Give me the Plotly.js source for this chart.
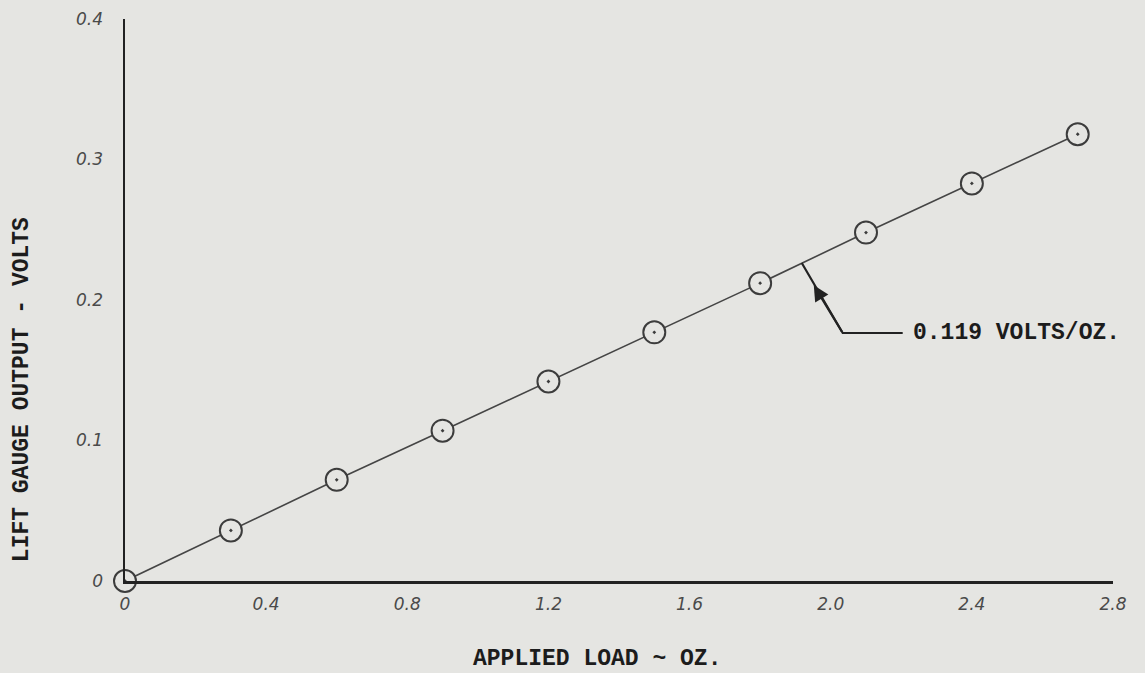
<!DOCTYPE html>
<html>
<head>
<meta charset="utf-8">
<script src="https://cdn.plot.ly/plotly-3.0.1.min.js"></script>
<style>
  html, body { margin: 0; padding: 0; background: #e5e5e2; }
  #chart { width: 1145px; height: 673px; }
</style>
</head>
<body>
<div id="chart"></div>
<script>
// ---- data ----
const loadOz = [0, 0.3, 0.6, 0.9, 1.2, 1.5, 1.8, 2.1, 2.4, 2.7];
const outputVolts = [0, 0.036, 0.072, 0.107, 0.142, 0.177, 0.212, 0.248, 0.283, 0.318];

const xTickVals = [0, 0.4, 0.8, 1.2, 1.6, 2.0, 2.4, 2.8];
const xTickText = ['0', '0.4', '0.8', '1.2', '1.6', '2.0', '2.4', '2.8'];
const yTickVals = [0, 0.1, 0.2, 0.3, 0.4];
const yTickText = ['0', '0.1', '0.2', '0.3', '0.4'];

const xTitle = 'APPLIED LOAD ~ OZ.';
const yTitle = 'LIFT GAUGE OUTPUT - VOLTS';
const slopeLabel = '0.119 VOLTS/OZ.';

// leader line for the slope label (annotation anchor positions)
const leaderX = [1.918, 2.034, 2.204];
const leaderY = [0.2263, 0.1765, 0.1765];
const arrowTipX = 1.952;
const arrowTipY = 0.2105;

const ink = '#222222';
const markInk = '#3c3c3c';
const paper = '#e5e5e2';
const typeFont = {family: '"Liberation Mono", "DejaVu Sans Mono", monospace', size: 23, color: '#1c1c1c', weight: 700};
const tickFont = {family: '"DejaVu Sans", "Noto Sans", sans-serif', size: 17, color: '#4a4a4a', style: 'italic'};

const trace = {
  x: loadOz,
  y: outputVolts,
  type: 'scatter',
  mode: 'lines+markers',
  cliponaxis: false,
  line: {color: '#454545', width: 1.6},
  marker: {symbol: 'circle-dot', size: 22, color: paper, line: {color: markInk, width: 2}},
  hoverinfo: 'x+y',
  showlegend: false
};

const layout = {
  width: 1145,
  height: 673,
  margin: {l: 125, r: 32, t: 19, b: 92},
  paper_bgcolor: paper,
  plot_bgcolor: paper,
  showlegend: false,
  xaxis: {
    range: [0, 2.8],
    tickvals: xTickVals,
    ticktext: xTickText,
    ticks: '',
    showgrid: false,
    zeroline: false,
    showline: true,
    linecolor: ink,
    linewidth: 2.5,
    tickfont: tickFont,
    ticklabelstandoff: 6
  },
  yaxis: {
    range: [0, 0.4],
    tickvals: yTickVals,
    ticktext: yTickText,
    ticks: '',
    showgrid: false,
    zeroline: false,
    showline: true,
    linecolor: ink,
    linewidth: 2.5,
    tickfont: tickFont,
    ticklabelstandoff: 16
  },
  shapes: [{
    type: 'path',
    xref: 'x', yref: 'y',
    path: 'M' + leaderX[0] + ',' + leaderY[0] + ' L' + leaderX[1] + ',' + leaderY[1] + ' L' + leaderX[2] + ',' + leaderY[2],
    line: {color: ink, width: 2.2}
  }],
  annotations: [{
    x: arrowTipX, y: arrowTipY, xref: 'x', yref: 'y',
    ax: leaderX[1], ay: leaderY[1], axref: 'x', ayref: 'y',
    text: '', showarrow: true, arrowhead: 2, arrowsize: 1.4, arrowwidth: 2.2, arrowcolor: ink
  }, {
    x: leaderX[2], y: leaderY[2], xref: 'x', yref: 'y',
    xanchor: 'left', yanchor: 'middle', xshift: 8,
    text: slopeLabel, showarrow: false,
    font: typeFont
  }, {
    // x-axis title
    x: 0.478, y: -0.138, xref: 'paper', yref: 'paper',
    xanchor: 'center', yanchor: 'middle',
    text: xTitle, showarrow: false, font: typeFont
  }, {
    // y-axis title
    x: -0.104, y: 0.34, xref: 'paper', yref: 'paper',
    xanchor: 'center', yanchor: 'middle', textangle: -90,
    text: yTitle, showarrow: false, font: typeFont
  }]
};

Plotly.newPlot('chart', [trace], layout, {displayModeBar: false, staticPlot: true});
</script>
</body>
</html>
